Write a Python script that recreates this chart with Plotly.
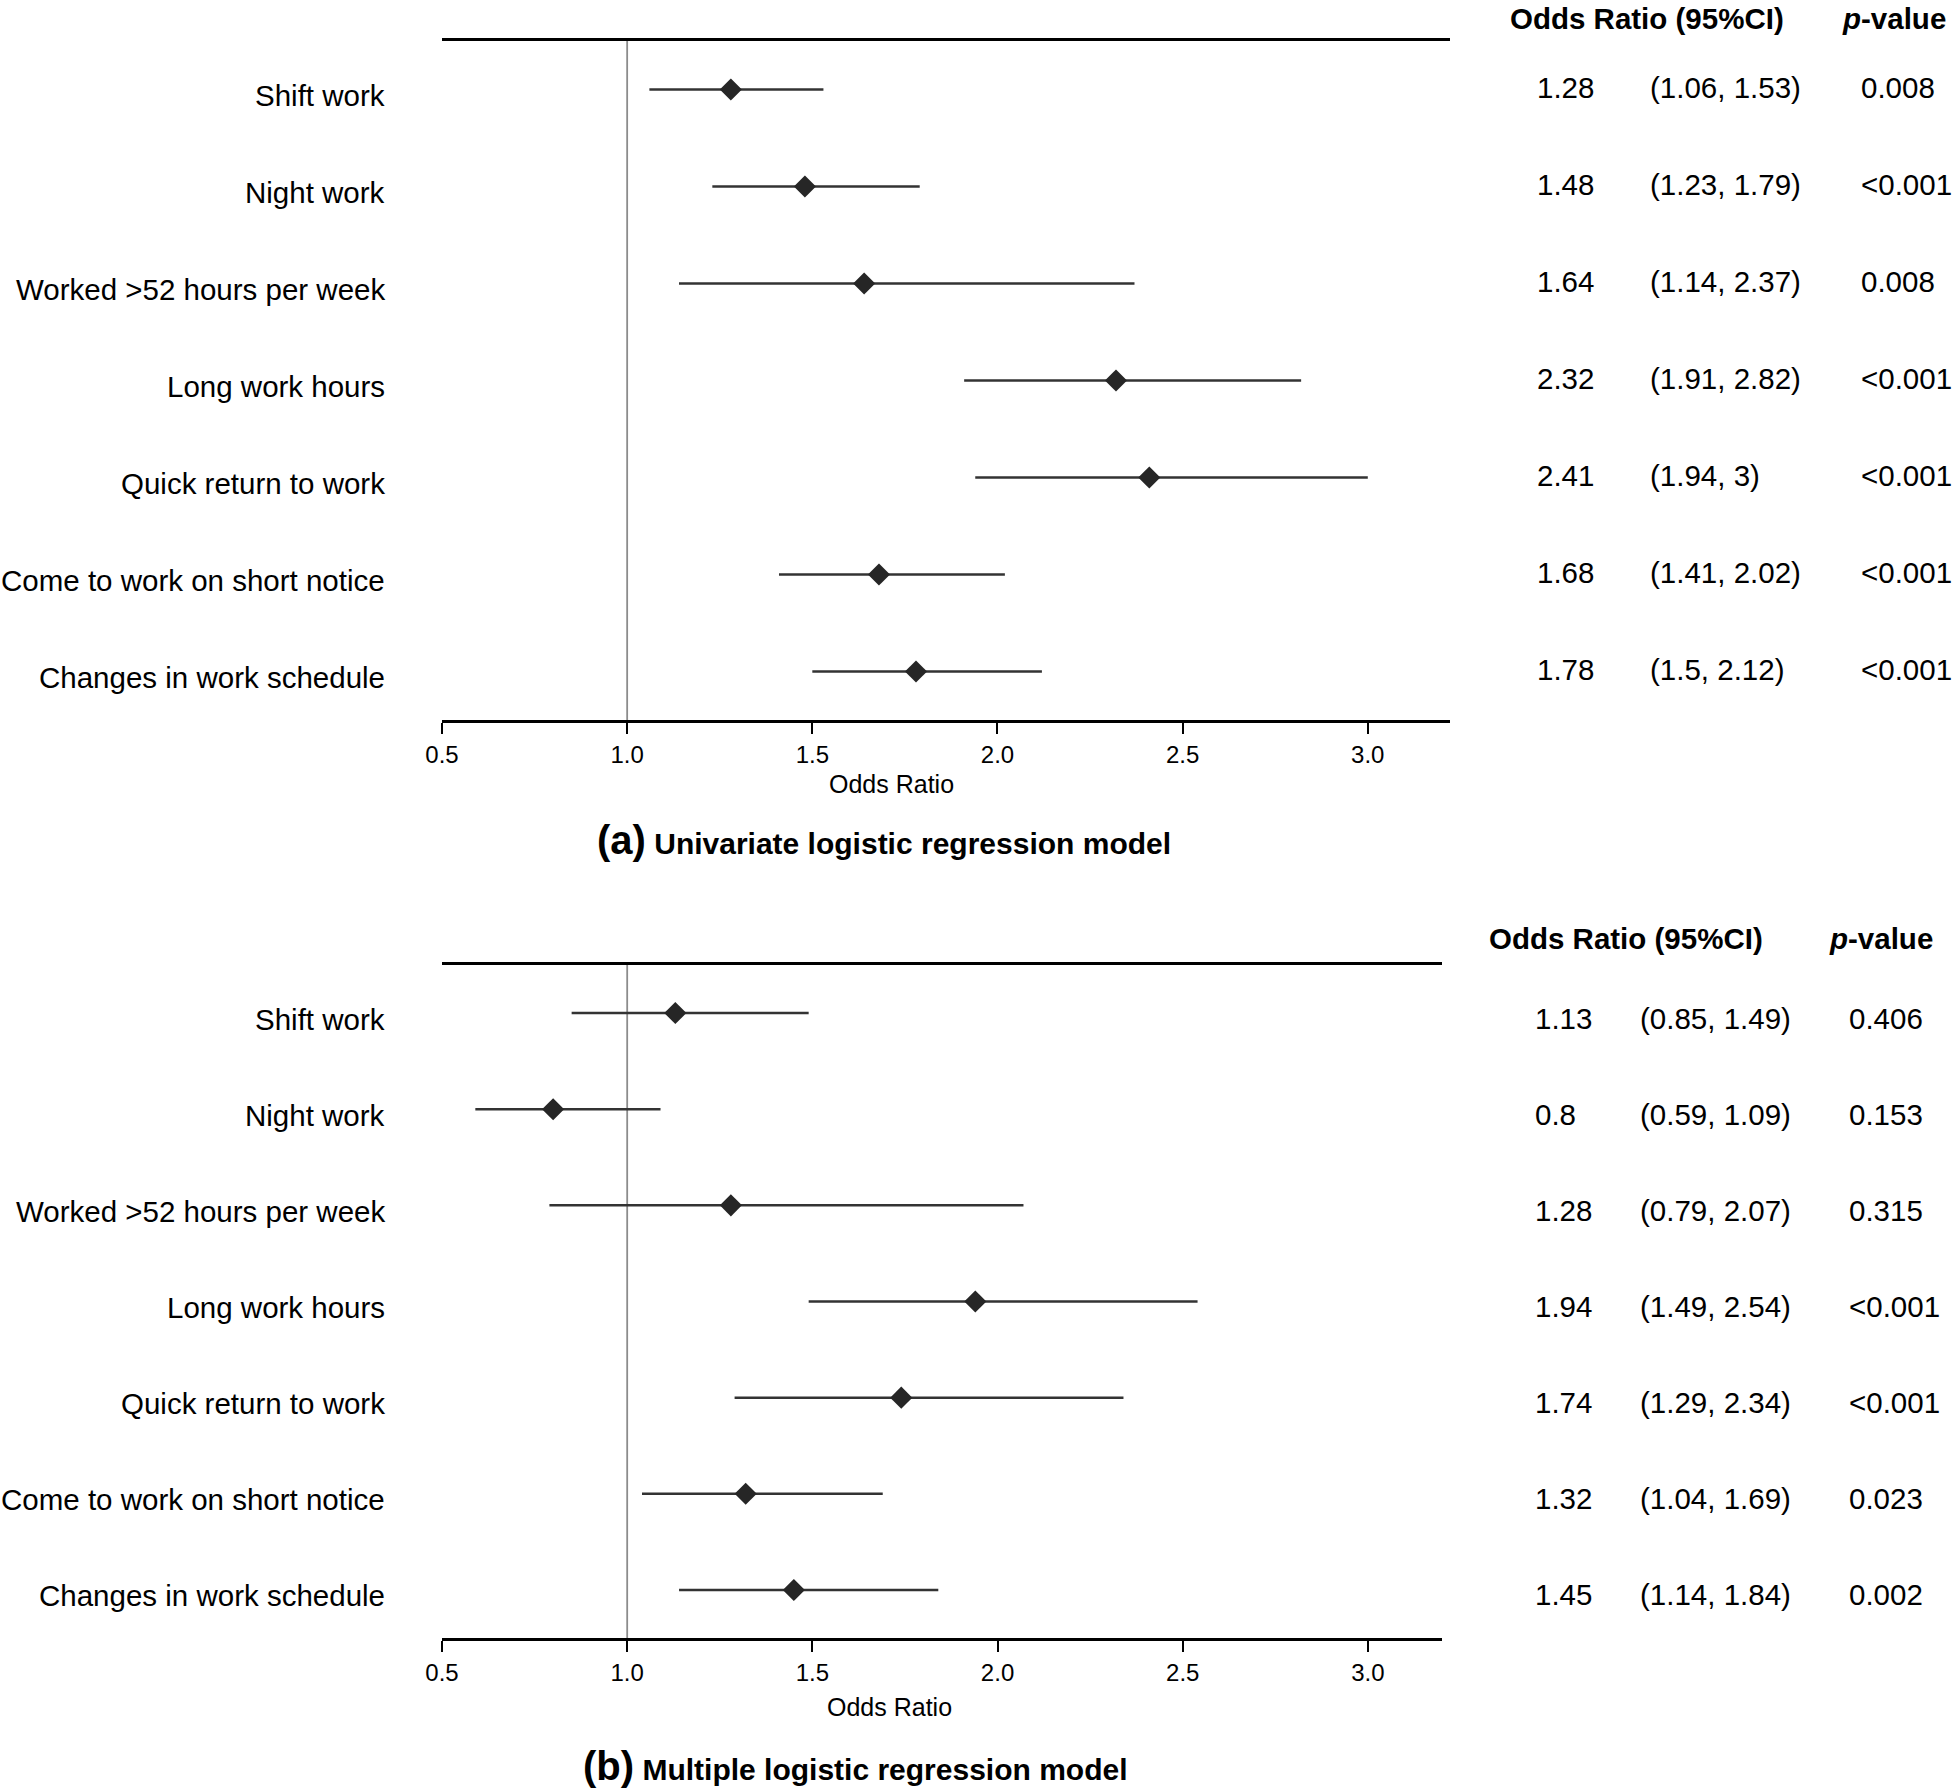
import plotly.graph_objects as go

W, H = 1952, 1788

labels = ["Shift work", "Night work", "Worked >52 hours per week", "Long work hours",
          "Quick return to work", "Come to work on short notice", "Changes in work schedule"]

# Panel (a) univariate
or_a = [1.28, 1.48, 1.64, 2.32, 2.41, 1.68, 1.78]
lo_a = [1.06, 1.23, 1.14, 1.91, 1.94, 1.41, 1.5]
hi_a = [1.53, 1.79, 2.37, 2.82, 3, 2.02, 2.12]
p_a = ["0.008", "<0.001", "0.008", "<0.001", "<0.001", "<0.001", "<0.001"]

# Panel (b) multiple
or_b = [1.13, 0.8, 1.28, 1.94, 1.74, 1.32, 1.45]
lo_b = [0.85, 0.59, 0.79, 1.49, 1.29, 1.04, 1.14]
hi_b = [1.49, 1.09, 2.07, 2.54, 2.34, 1.69, 1.84]
p_b = ["0.406", "0.153", "0.315", "<0.001", "<0.001", "0.023", "0.002"]

xticks = [0.5, 1.0, 1.5, 2.0, 2.5, 3.0]

FONT = "Liberation Sans, Arial, Helvetica, sans-serif"

def px_x(px):
    return px / W

def px_y(px):
    return 1 - px / H

fig = go.Figure()

rows = list(range(len(labels)))

for (orv, lo, hi, xa, ya) in [(or_a, lo_a, hi_a, "x", "y"), (or_b, lo_b, hi_b, "x2", "y2")]:
    fig.add_trace(go.Scatter(
        x=orv, y=rows, xaxis=xa, yaxis=ya, mode="markers",
        marker=dict(symbol="diamond", size=17, color="#262626", line=dict(width=0)),
        error_x=dict(type="data", symmetric=False,
                     array=[h - o for h, o in zip(hi, orv)],
                     arrayminus=[o - l for o, l in zip(orv, lo)],
                     width=0, thickness=2.5, color="#333333"),
        showlegend=False, hoverinfo="skip",
    ))

axis_common = dict(
    showline=True, mirror=True, linecolor="black", linewidth=2.5,
    ticks="outside", ticklen=11, tickwidth=2, tickcolor="black",
    tickvals=xticks, ticktext=[f"{v:.1f}" for v in xticks],
    tickfont=dict(family=FONT, size=24, color="black"),
    showgrid=False, zeroline=False, automargin=False,
)
yaxis_common = dict(
    tickvals=rows, showticklabels=False, showline=False, ticks="", showgrid=False,
    zeroline=False, automargin=False, range=[6.5, -0.5],
)

fig.update_layout(
    width=W, height=H,
    margin=dict(l=0, r=0, t=0, b=0),
    paper_bgcolor="white", plot_bgcolor="white",
    font=dict(family=FONT, color="black"),
    xaxis=dict(domain=[px_x(442), px_x(1450)], range=[0.5, 3.222], anchor="y", **axis_common),
    yaxis=dict(domain=[px_y(720), px_y(41)], anchor="x", **yaxis_common),
    xaxis2=dict(domain=[px_x(442), px_x(1442)], range=[0.5, 3.2], anchor="y2", **axis_common),
    yaxis2=dict(domain=[px_y(1638), px_y(965)], anchor="x2", **yaxis_common),
)

# reference lines at OR = 1
for xr, yr in [("x", "y"), ("x2", "y2")]:
    fig.add_shape(type="line", xref=xr, yref=f"{yr} domain", x0=1, x1=1, y0=0, y1=1,
                  line=dict(color="#8c8c8c", width=1.8), layer="below")

ann = []
def text(x, y, s, size=29.5, xanchor="left", yref="paper", bold=False, yshift=0):
    ann.append(dict(x=x, y=y, xref="paper", yref=yref, text=(f"<b>{s}</b>" if bold else s),
                    showarrow=False, xanchor=xanchor, yanchor="middle", yshift=yshift,
                    font=dict(family=FONT, size=size, color="black")))

# row labels
for yr in ["y", "y2"]:
    for i in rows:
        text(px_x(387), i, labels[i], size=29.5, xanchor="right", yref=yr, yshift=-6)

# Table panel (a)
text(px_x(1508), px_y(18), "Odds Ratio (95%CI)", size=29.5, bold=True)
text(px_x(1840), px_y(18), "<i>p</i>-value", size=29.5, bold=True)
for i in rows:
    text(px_x(1535), i, f"{or_a[i]:g}", yref="y", yshift=2)
    text(px_x(1648), i, f"({lo_a[i]:g}, {hi_a[i]:g})", yref="y", yshift=2)
    text(px_x(1859), i, p_a[i], yref="y", yshift=2)

# Table panel (b)
text(px_x(1487), px_y(938), "Odds Ratio (95%CI)", size=29.5, bold=True)
text(px_x(1827), px_y(938), "<i>p</i>-value", size=29.5, bold=True)
for i in rows:
    text(px_x(1533), i, f"{or_b[i]:g}", yref="y2", yshift=-5)
    text(px_x(1638), i, f"({lo_b[i]:g}, {hi_b[i]:g})", yref="y2", yshift=-5)
    text(px_x(1847), i, p_b[i], yref="y2", yshift=-5)

# axis titles
text(px_x(891), px_y(784), "Odds Ratio", size=25, xanchor="center")
text(px_x(889), px_y(1707), "Odds Ratio", size=25, xanchor="center")

# captions
text(px_x(884), px_y(840),
     "<span style='font-size:40px'>(a)</span> Univariate logistic regression model",
     size=30, xanchor="center", bold=True)
text(px_x(855), px_y(1766),
     "<span style='font-size:40px'>(b)</span> Multiple logistic regression model",
     size=30, xanchor="center", bold=True)

fig.update_layout(annotations=ann)

fig.write_html("out.html", config={"displayModeBar": False},
               post_script="document.body.style.margin='0';document.body.style.padding='0';")
